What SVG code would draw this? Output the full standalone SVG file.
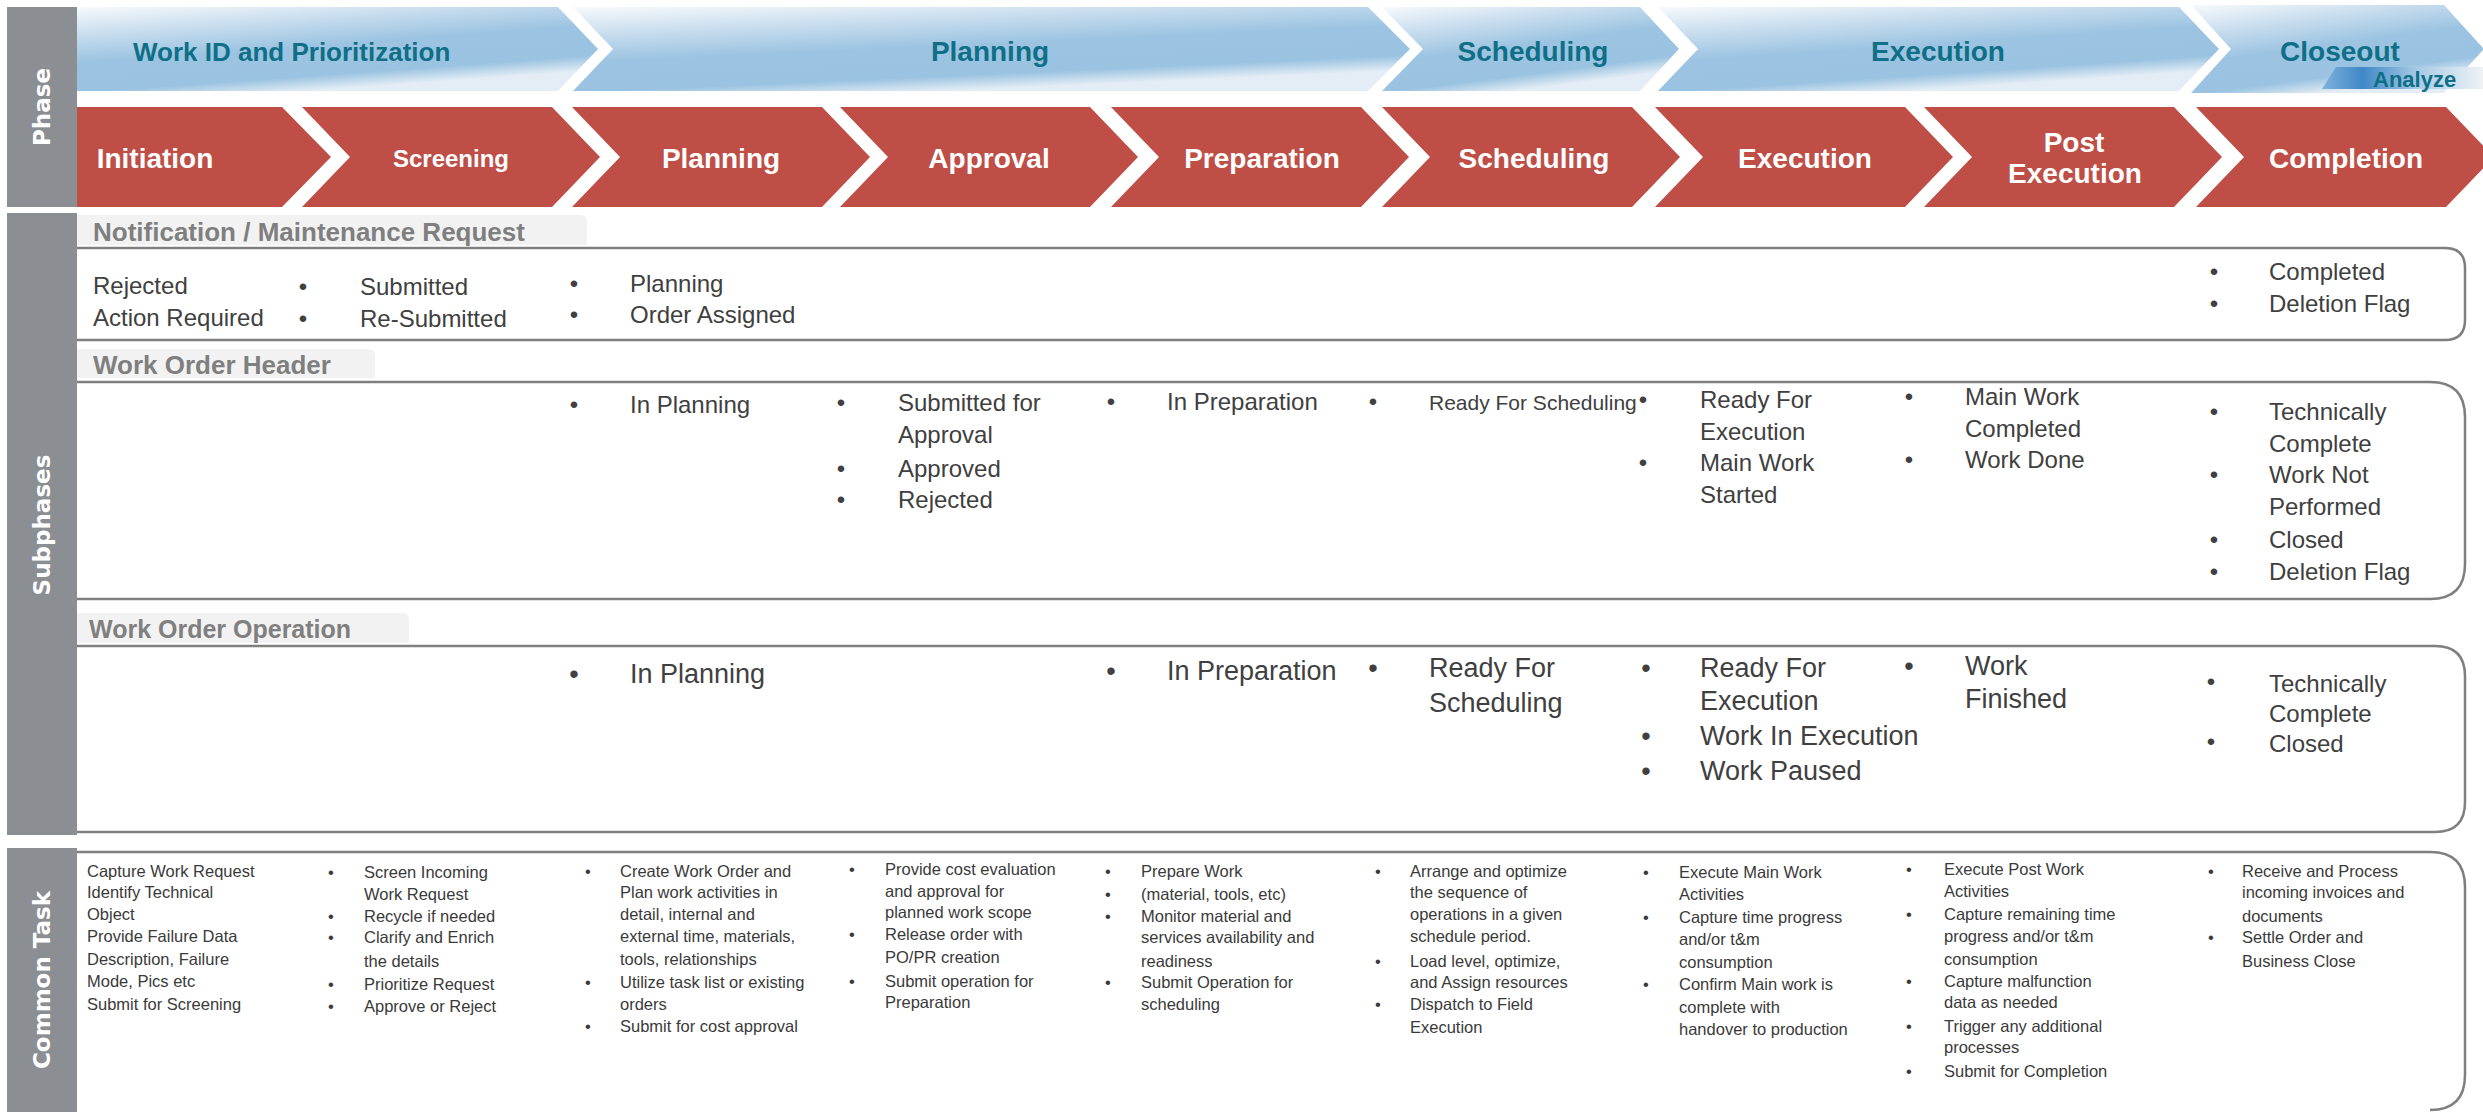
<svg xmlns="http://www.w3.org/2000/svg" width="2483" height="1112" viewBox="0 0 2483 1112">
<defs>
<linearGradient id="blueG" x1="0" y1="0" x2="0.45" y2="1">
<stop offset="0" stop-color="#f7fafc"/>
<stop offset="0.3" stop-color="#c5dbed"/>
<stop offset="0.55" stop-color="#9cc4e2"/>
<stop offset="0.85" stop-color="#9ac3e1"/>
<stop offset="1" stop-color="#e4edf5"/>
</linearGradient>
<linearGradient id="anaG" x1="0" y1="0" x2="1" y2="0">
<stop offset="0" stop-color="#7fb2dc"/>
<stop offset="0.25" stop-color="#3f88c6"/>
<stop offset="0.6" stop-color="#a9cbe6"/>
<stop offset="1" stop-color="#eef2f5"/>
</linearGradient>
</defs>
<style>
.red{fill:#be4e46}
.blue{fill:url(#blueG)}
.rt{font-family:"Liberation Sans",Arial,sans-serif;font-weight:bold;fill:#ffffff;font-size:28px;text-anchor:middle}
.bt{font-family:"Liberation Sans",Arial,sans-serif;font-weight:bold;fill:#0e6f86;font-size:28px;text-anchor:middle}
.side{fill:#8b8e92}
.sidet{font-family:"DejaVu Sans",Verdana,sans-serif;font-weight:bold;fill:#ffffff;font-size:23px;text-anchor:middle}
.tab{fill:#f2f2f2}
.tabt{font-family:"Liberation Sans",Arial,sans-serif;font-weight:bold;fill:#7f7f7f;font-size:26px}
.box{fill:none;stroke:#7f7f7f;stroke-width:2.5}
.s{font-family:"Liberation Sans",Arial,sans-serif;fill:#404040;font-size:24px}
.m{font-size:27px}
.c{font-size:16.5px;fill:#3a3a3a}
.b{text-anchor:middle}
</style>

<g id="side-bars">
<g id="side-phase"><rect class="side" x="7" y="7" width="70" height="200"/><text class="sidet" transform="translate(42,107) rotate(-90)" x="0" y="8">Phase</text></g>
<g id="side-subphases"><rect class="side" x="7" y="213" width="70" height="622"/><text class="sidet" transform="translate(42,525) rotate(-90)" x="0" y="8">Subphases</text></g>
<g id="side-common"><rect class="side" x="7" y="848" width="70" height="264"/><text class="sidet" transform="translate(42,980) rotate(-90)" x="0" y="8">Common Task</text></g>
</g>

<g id="phases">
<g id="ph-workid"><path class="blue" d="M77,7 H558 L598,49 L558,91 H77 Z"/><text class="bt" x="133" y="61" style="text-anchor:start;font-size:26px">Work ID and Prioritization</text></g>
<g id="ph-planning"><path class="blue" d="M573,7 H1368 L1410,49 L1368,91 H573 L613,49 Z"/><text class="bt" x="990" y="61">Planning</text></g>
<g id="ph-scheduling"><path class="blue" d="M1382,7 H1640 L1679,49 L1640,91 H1382 L1423,49 Z"/><text class="bt" x="1533" y="61">Scheduling</text></g>
<g id="ph-execution"><path class="blue" d="M1658,7 H2179 L2219,49 L2179,91 H1658 L1698,49 Z"/><text class="bt" x="1938" y="61">Execution</text></g>
<g id="ph-closeout"><path class="blue" d="M2191,5 H2444 L2484,49 L2444,93 H2191 L2231,49 Z"/><text class="bt" x="2340" y="61">Closeout</text>
<path d="M2336,67 H2483 V89 H2322 Z" fill="url(#anaG)"/><text class="bt" x="2373" y="87" style="text-anchor:start;font-size:22px">Analyze</text></g>
</g>

<g id="steps">
<g id="st-initiation"><path class="red" d="M77,107 H282 L331,157 L282,207 H77 Z"/><text class="rt" x="155" y="168">Initiation</text></g>
<g id="st-screening"><path class="red" d="M302,107 H552 L600,157 L552,207 H302 L350,157 Z"/><text class="rt" x="451" y="167" style="font-size:24px">Screening</text></g>
<g id="st-planning"><path class="red" d="M572,107 H822 L870,157 L822,207 H572 L620,157 Z"/><text class="rt" x="721" y="168">Planning</text></g>
<g id="st-approval"><path class="red" d="M840,107 H1090 L1138,157 L1090,207 H840 L888,157 Z"/><text class="rt" x="989" y="168">Approval</text></g>
<g id="st-preparation"><path class="red" d="M1111,107 H1361 L1409,157 L1361,207 H1111 L1159,157 Z"/><text class="rt" x="1262" y="168">Preparation</text></g>
<g id="st-scheduling"><path class="red" d="M1382,107 H1632 L1680,157 L1632,207 H1382 L1430,157 Z"/><text class="rt" x="1534" y="168">Scheduling</text></g>
<g id="st-execution"><path class="red" d="M1655,107 H1905 L1953,157 L1905,207 H1655 L1703,157 Z"/><text class="rt" x="1805" y="168">Execution</text></g>
<g id="st-postexec"><path class="red" d="M1924,107 H2174 L2222,157 L2174,207 H1924 L1972,157 Z"/><text class="rt" x="2074" y="152">Post</text><text class="rt" x="2075" y="183">Execution</text></g>
<g id="st-completion"><path class="red" d="M2196,107 H2446 L2494,157 L2446,207 H2196 L2244,157 Z"/><text class="rt" x="2346" y="168">Completion</text></g>
</g>

<g id="notification">
<path class="tab" d="M77,215 H580 Q587,215 587,222 V245 H77 Z"/>
<text class="tabt" x="93" y="241">Notification / Maintenance Request</text>
<path class="box" d="M77,248 H2445 Q2465,248 2465,268 V320 Q2465,340 2445,340 H77"/>
<text class="s" x="93" y="294">Rejected</text>
<text class="s" x="93" y="326">Action Required</text>
<text class="s b" x="303" y="295">•</text><text class="s" x="360" y="295">Submitted</text>
<text class="s b" x="303" y="327">•</text><text class="s" x="360" y="327">Re-Submitted</text>
<text class="s b" x="574" y="292">•</text><text class="s" x="630" y="292">Planning</text>
<text class="s b" x="574" y="323">•</text><text class="s" x="630" y="323">Order Assigned</text>
<text class="s b" x="2214" y="280">•</text><text class="s" x="2269" y="280">Completed</text>
<text class="s b" x="2214" y="312">•</text><text class="s" x="2269" y="312">Deletion Flag</text>
</g>

<g id="wo-header">
<path class="tab" d="M77,349 H368 Q375,349 375,356 V378 H77 Z"/>
<text class="tabt" x="93" y="374">Work Order Header</text>
<path class="box" d="M77,382 H2430 Q2465,382 2465,417 V564 Q2465,599 2430,599 H77"/>
<text class="s b" x="574" y="413">•</text><text class="s" x="630" y="413">In Planning</text>
<text class="s b" x="841" y="411">•</text><text class="s" x="898" y="411">Submitted for</text>
<text class="s" x="898" y="443">Approval</text>
<text class="s b" x="841" y="477">•</text><text class="s" x="898" y="477">Approved</text>
<text class="s b" x="841" y="508">•</text><text class="s" x="898" y="508">Rejected</text>
<text class="s b" x="1111" y="410">•</text><text class="s" x="1167" y="410">In Preparation</text>
<text class="s b" x="1373" y="410">•</text><text class="s" x="1429" y="410" style="font-size:21px">Ready For Scheduling</text>
<text class="s b" x="1643" y="408">•</text><text class="s" x="1700" y="408">Ready For</text>
<text class="s" x="1700" y="440">Execution</text>
<text class="s b" x="1643" y="471">•</text><text class="s" x="1700" y="471">Main Work</text>
<text class="s" x="1700" y="503">Started</text>
<text class="s b" x="1909" y="405">•</text><text class="s" x="1965" y="405">Main Work</text>
<text class="s" x="1965" y="437">Completed</text>
<text class="s b" x="1909" y="468">•</text><text class="s" x="1965" y="468">Work Done</text>
<text class="s b" x="2214" y="420">•</text><text class="s" x="2269" y="420">Technically</text>
<text class="s" x="2269" y="452">Complete</text>
<text class="s b" x="2214" y="483">•</text><text class="s" x="2269" y="483">Work Not</text>
<text class="s" x="2269" y="515">Performed</text>
<text class="s b" x="2214" y="548">•</text><text class="s" x="2269" y="548">Closed</text>
<text class="s b" x="2214" y="580">•</text><text class="s" x="2269" y="580">Deletion Flag</text>
</g>

<g id="wo-operation">
<path class="tab" d="M77,613 H402 Q409,613 409,620 V643 H77 Z"/>
<text class="tabt" x="89" y="638" style="font-size:25px">Work Order Operation</text>
<path class="box" d="M77,646 H2435 Q2465,646 2465,676 V802 Q2465,832 2435,832 H77"/>
<text class="s m b" x="574" y="683">•</text><text class="s m" x="630" y="683">In Planning</text>
<text class="s m b" x="1111" y="680">•</text><text class="s m" x="1167" y="680">In Preparation</text>
<text class="s m b" x="1373" y="677">•</text><text class="s m" x="1429" y="677">Ready For</text>
<text class="s m" x="1429" y="712">Scheduling</text>
<text class="s m b" x="1646" y="677">•</text><text class="s m" x="1700" y="677">Ready For</text>
<text class="s m" x="1700" y="710">Execution</text>
<text class="s m b" x="1646" y="745">•</text><text class="s m" x="1700" y="745">Work In Execution</text>
<text class="s m b" x="1646" y="780">•</text><text class="s m" x="1700" y="780">Work Paused</text>
<text class="s m b" x="1909" y="675">•</text><text class="s m" x="1965" y="675">Work</text>
<text class="s m" x="1965" y="708">Finished</text>
<text class="s b" x="2211" y="690">•</text><text class="s" x="2269" y="692">Technically</text>
<text class="s" x="2269" y="722">Complete</text>
<text class="s b" x="2211" y="750">•</text><text class="s" x="2269" y="752">Closed</text>
</g>

<g id="common-task">
<path class="box" d="M77,852 H2430 Q2465,852 2465,887 V1075 Q2465,1110 2430,1110"/>
<g id="ct-initiation">
<text class="s c" x="87" y="877">Capture Work Request</text>
<text class="s c" x="87" y="898">Identify Technical</text>
<text class="s c" x="87" y="920">Object</text>
<text class="s c" x="87" y="942">Provide Failure Data</text>
<text class="s c" x="87" y="965">Description, Failure</text>
<text class="s c" x="87" y="987">Mode, Pics etc</text>
<text class="s c" x="87" y="1010">Submit for Screening</text>
</g>
<g id="ct-screening">
<text class="s c b" x="331" y="878">•</text><text class="s c" x="364" y="878">Screen Incoming</text>
<text class="s c" x="364" y="900">Work Request</text>
<text class="s c b" x="331" y="922">•</text><text class="s c" x="364" y="922">Recycle if needed</text>
<text class="s c b" x="331" y="943">•</text><text class="s c" x="364" y="943">Clarify and Enrich</text>
<text class="s c" x="364" y="967">the details</text>
<text class="s c b" x="331" y="990">•</text><text class="s c" x="364" y="990">Prioritize Request</text>
<text class="s c b" x="331" y="1012">•</text><text class="s c" x="364" y="1012">Approve or Reject</text>
</g>
<g id="ct-planning">
<text class="s c b" x="588" y="877">•</text><text class="s c" x="620" y="877">Create Work Order and</text>
<text class="s c" x="620" y="898">Plan work activities in</text>
<text class="s c" x="620" y="920">detail, internal and</text>
<text class="s c" x="620" y="942">external time, materials,</text>
<text class="s c" x="620" y="965">tools, relationships</text>
<text class="s c b" x="588" y="988">•</text><text class="s c" x="620" y="988">Utilize task list or existing</text>
<text class="s c" x="620" y="1010">orders</text>
<text class="s c b" x="588" y="1032">•</text><text class="s c" x="620" y="1032">Submit for cost approval</text>
</g>
<g id="ct-approval">
<text class="s c b" x="852" y="875">•</text><text class="s c" x="885" y="875">Provide cost evaluation</text>
<text class="s c" x="885" y="897">and approval for</text>
<text class="s c" x="885" y="918">planned work scope</text>
<text class="s c b" x="852" y="940">•</text><text class="s c" x="885" y="940">Release order with</text>
<text class="s c" x="885" y="963">PO/PR creation</text>
<text class="s c b" x="852" y="987">•</text><text class="s c" x="885" y="987">Submit operation for</text>
<text class="s c" x="885" y="1008">Preparation</text>
</g>
<g id="ct-preparation">
<text class="s c b" x="1108" y="877">•</text><text class="s c" x="1141" y="877">Prepare Work</text>
<text class="s c b" x="1108" y="900">•</text><text class="s c" x="1141" y="900">(material, tools, etc)</text>
<text class="s c b" x="1108" y="922">•</text><text class="s c" x="1141" y="922">Monitor material and</text>
<text class="s c" x="1141" y="943">services availability and</text>
<text class="s c" x="1141" y="967">readiness</text>
<text class="s c b" x="1108" y="988">•</text><text class="s c" x="1141" y="988">Submit Operation for</text>
<text class="s c" x="1141" y="1010">scheduling</text>
</g>
<g id="ct-scheduling">
<text class="s c b" x="1378" y="877">•</text><text class="s c" x="1410" y="877">Arrange and optimize</text>
<text class="s c" x="1410" y="898">the sequence of</text>
<text class="s c" x="1410" y="920">operations in a given</text>
<text class="s c" x="1410" y="942">schedule period.</text>
<text class="s c b" x="1378" y="967">•</text><text class="s c" x="1410" y="967">Load level, optimize,</text>
<text class="s c" x="1410" y="988">and Assign resources</text>
<text class="s c b" x="1378" y="1010">•</text><text class="s c" x="1410" y="1010">Dispatch to Field</text>
<text class="s c" x="1410" y="1033">Execution</text>
</g>
<g id="ct-execution">
<text class="s c b" x="1646" y="878">•</text><text class="s c" x="1679" y="878">Execute Main Work</text>
<text class="s c" x="1679" y="900">Activities</text>
<text class="s c b" x="1646" y="923">•</text><text class="s c" x="1679" y="923">Capture time progress</text>
<text class="s c" x="1679" y="945">and/or t&amp;m</text>
<text class="s c" x="1679" y="968">consumption</text>
<text class="s c b" x="1646" y="990">•</text><text class="s c" x="1679" y="990">Confirm Main work is</text>
<text class="s c" x="1679" y="1013">complete with</text>
<text class="s c" x="1679" y="1035">handover to production</text>
</g>
<g id="ct-postexec">
<text class="s c b" x="1909" y="875">•</text><text class="s c" x="1944" y="875">Execute Post Work</text>
<text class="s c" x="1944" y="897">Activities</text>
<text class="s c b" x="1909" y="920">•</text><text class="s c" x="1944" y="920">Capture remaining time</text>
<text class="s c" x="1944" y="942">progress and/or t&amp;m</text>
<text class="s c" x="1944" y="965">consumption</text>
<text class="s c b" x="1909" y="987">•</text><text class="s c" x="1944" y="987">Capture malfunction</text>
<text class="s c" x="1944" y="1008">data as needed</text>
<text class="s c b" x="1909" y="1032">•</text><text class="s c" x="1944" y="1032">Trigger any additional</text>
<text class="s c" x="1944" y="1053">processes</text>
<text class="s c b" x="1909" y="1077">•</text><text class="s c" x="1944" y="1077">Submit for Completion</text>
</g>
<g id="ct-completion">
<text class="s c b" x="2211" y="877">•</text><text class="s c" x="2242" y="877">Receive and Process</text>
<text class="s c" x="2242" y="898">incoming invoices and</text>
<text class="s c" x="2242" y="922">documents</text>
<text class="s c b" x="2211" y="943">•</text><text class="s c" x="2242" y="943">Settle Order and</text>
<text class="s c" x="2242" y="967">Business Close</text>
</g>
</g>

<g id="connectors"></g>
</svg>
